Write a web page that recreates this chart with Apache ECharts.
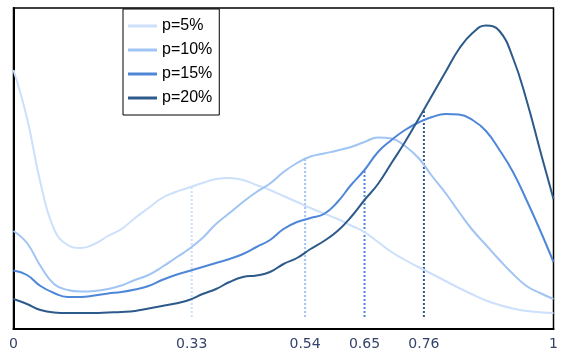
<!DOCTYPE html>
<html><head><meta charset="utf-8">
<script src="https://cdn.jsdelivr.net/npm/echarts@6/dist/echarts.min.js"></script>
<style>html,body{margin:0;padding:0;background:#fff}#c{width:571px;height:360px}</style>
</head><body><div id="c"></div>
<script>
const xs = [0,0.025,0.05,0.075,0.1,0.125,0.15,0.175,0.2,0.225,0.25,0.275,0.3,0.325,0.35,0.375,0.4,0.425,0.45,0.475,0.5,0.525,0.55,0.575,0.6,0.625,0.65,0.675,0.7,0.725,0.75,0.775,0.8,0.825,0.85,0.875,0.9,0.925,0.95,0.975,1];
const seriesNames = ['p=5%','p=10%','p=15%','p=20%'];
const p5 = [2.47,1.99,1.34,0.88,0.72,0.69,0.73,0.81,0.88,0.99,1.09,1.19,1.25,1.295,1.34,1.38,1.39,1.37,1.32,1.27,1.21,1.15,1.09,1.035,0.98,0.915,0.85,0.75,0.65,0.57,0.50,0.43,0.36,0.29,0.225,0.165,0.12,0.085,0.06,0.047,0.04];
const p10 = [0.86,0.74,0.51,0.33,0.27,0.255,0.26,0.28,0.315,0.37,0.42,0.50,0.59,0.68,0.79,0.93,1.04,1.15,1.25,1.335,1.45,1.54,1.605,1.635,1.665,1.70,1.75,1.795,1.785,1.71,1.59,1.41,1.24,1.05,0.87,0.72,0.57,0.43,0.31,0.24,0.18];
const p15 = [0.465,0.42,0.31,0.24,0.20,0.20,0.215,0.235,0.25,0.275,0.31,0.37,0.42,0.46,0.50,0.54,0.58,0.63,0.70,0.77,0.88,0.95,0.99,1.03,1.15,1.32,1.47,1.65,1.77,1.87,1.945,2.00,2.03,2.025,1.97,1.86,1.67,1.45,1.17,0.87,0.55];
const p20 = [0.18,0.13,0.07,0.045,0.04,0.04,0.04,0.045,0.05,0.06,0.085,0.11,0.135,0.17,0.23,0.28,0.35,0.40,0.415,0.45,0.53,0.59,0.68,0.76,0.86,1.00,1.17,1.33,1.54,1.75,1.98,2.215,2.45,2.68,2.84,2.915,2.86,2.59,2.17,1.67,1.18];
const medians = [0.33,0.54,0.65,0.76];
const tickLabels = [0,0.33,0.54,0.65,0.76,1];
const colors = ['#cce0fb','#a0c4f4','#4f87d8','#2c5a8a'];
const allVals = [p5,p10,p15,p20];

function interp(arr, x){
  for(let i=0;i<xs.length-1;i++){
    if(x>=xs[i] && x<=xs[i+1]){
      const t=(x-xs[i])/(xs[i+1]-xs[i]);
      return arr[i]+(arr[i+1]-arr[i])*t;
    }
  }
  return arr[arr.length-1];
}

const chart = echarts.init(document.getElementById('c'));
const series = [];
seriesNames.forEach((name,k)=>{
  series.push({
    name:'median ' + name, type:'line', symbol:'none', silent:true,
    data:[[medians[k],0],[medians[k],interp(allVals[k],medians[k])]],
    lineStyle:{color:colors[k], width:2, type:[2,2]},
    z:2
  });
});
seriesNames.forEach((name,k)=>{
  series.push({
    name, type:'line', smooth:0.45, symbol:'none',
    data: xs.map((x,i)=>[x, allVals[k][i]]),
    lineStyle:{color:colors[k], width:2},
    itemStyle:{color:colors[k]},
    z: 3+k
  });
});
chart.setOption({
  animation:false,
  grid:{left:13.5,right:17.5,top:8,bottom:31,show:true,borderColor:'#000',borderWidth:1.5,containLabel:false},
  legend:{
    orient:'vertical', left:123, top:9,
    data: seriesNames,
    icon:'rect', itemWidth:29, itemHeight:3, itemGap:8,
    borderColor:'#000', borderWidth:1, borderRadius:0,
    padding:[9,7,9,5],
    textStyle:{fontFamily:'Liberation Sans', fontSize:16, color:'#000', lineHeight:16}
  },
  xAxis:{
    type:'value', min:0, max:1, interval:0.01,
    axisLine:{show:true, onZero:false, lineStyle:{color:'#000', width:2}},
    axisTick:{show:false},
    splitLine:{show:false},
    axisLabel:{
      show:true, hideOverlap:false, interval:0,
      formatter: v => { const t = tickLabels.find(s => Math.abs(s - v) < 1e-6); return t === undefined ? '' : '{a|' + t + '}'; },
      margin:7,
      rich:{a:{fontFamily:'DejaVu Sans', fontSize:14, color:'#34436a', lineHeight:16}}
    }
  },
  yAxis:{
    type:'value', min:-0.12, max:3.09,
    axisLine:{show:true, onZero:false, lineStyle:{color:'#000', width:2}},
    axisTick:{show:false}, axisLabel:{show:false}, splitLine:{show:false}
  },
  series
});
</script></body></html>
